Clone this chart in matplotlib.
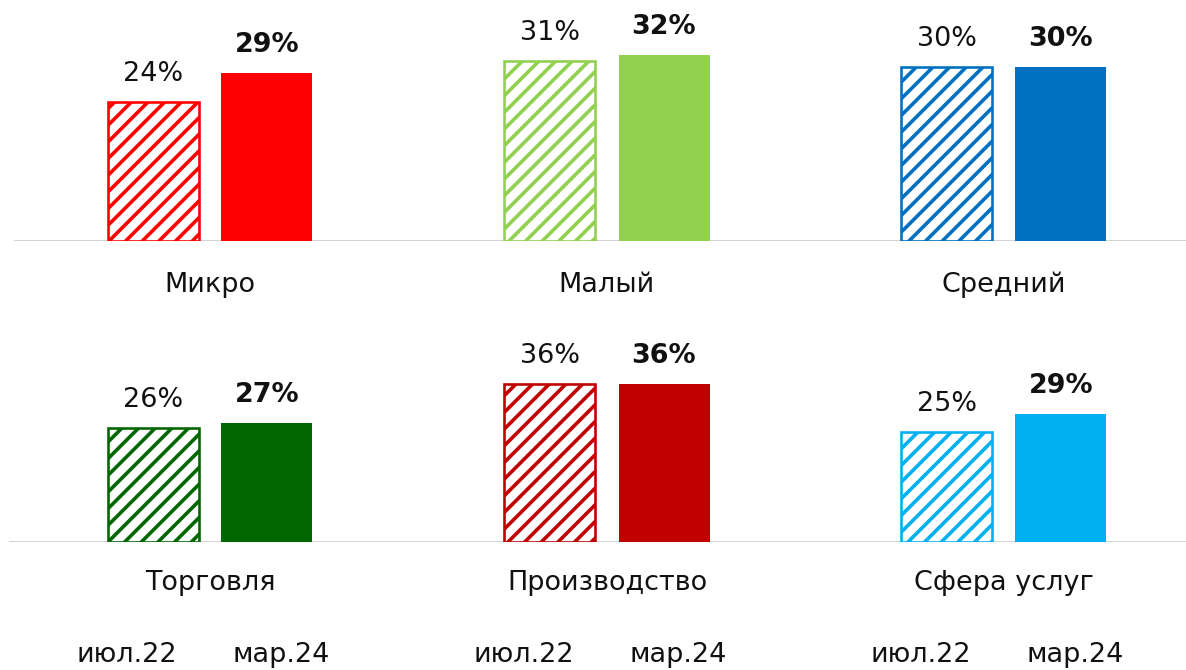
import matplotlib
matplotlib.use("Agg")
import matplotlib.pyplot as plt
import numpy as np

# data
top_groups = ["Микро", "Малый", "Средний"]
top_jul22 = [24, 31, 30]
top_mar24 = [29, 32, 30]
top_colors = ["#FF0000", "#92D050", "#0070C0"]

bottom_groups = ["Торговля", "Производство", "Сфера услуг"]
bottom_jul22 = [26, 36, 25]
bottom_mar24 = [27, 36, 29]
bottom_colors = ["#006600", "#C00000", "#00B0F0"]

period_labels = ["июл.22", "мар.24"]

W, H = 1186, 670
DPI = 100
PT = 72.0 / DPI   # points per pixel

plt.rcParams["font.family"] = ["DejaVu Sans"]
plt.rcParams["hatch.linewidth"] = 3.6 * PT

fig = plt.figure(figsize=(W / DPI, H / DPI), dpi=DPI)

SPACING = 397.0   # px between group centres
CENTER0 = 210.0   # px of first group centre
OFFSET = 57.0 / SPACING
BAR_W = 91.0 / SPACING
XLIM = (-CENTER0 / SPACING, (W - CENTER0) / SPACING)
FS = 27 * PT


def draw_row(baseline_px, px_per_pct, groups, v1, v2, colors, line_start, label_y):
    height_px = baseline_px  # axes reaches up to top of figure
    ax = fig.add_axes([0, (H - baseline_px) / H, 1, height_px / H])
    ax.set_xlim(*XLIM)
    ax.set_ylim(0, height_px / px_per_pct)
    ax.axis("off")
    ax.axhline(0, xmin=line_start / W, xmax=1, color="#d4d4d4", lw=2 * PT, zorder=1)

    x = np.arange(len(groups))
    b1 = ax.bar(x - OFFSET, v1, width=BAR_W, color="white", edgecolor=colors,
                hatch="//", linewidth=2.6 * PT, zorder=2)
    b2 = ax.bar(x + OFFSET, v2, width=BAR_W, color=colors, linewidth=0, zorder=2)

    for rect, val in zip(b1, v1):
        ax.annotate(f"{val}%", (rect.get_x() + rect.get_width() / 2, val),
                    xytext=(0, 15 * PT), textcoords="offset points",
                    ha="center", va="bottom", fontsize=FS, color="#111111")
    for rect, val in zip(b2, v2):
        ax.annotate(f"{val}%", (rect.get_x() + rect.get_width() / 2, val),
                    xytext=(0, 15 * PT), textcoords="offset points",
                    ha="center", va="bottom", fontsize=FS, fontweight="bold",
                    color="#111111")

    for xi, name in zip(x, groups):
        ax.text(xi, 0, name, ha="center", va="center", fontsize=FS,
                color="#111111",
                transform=ax.transData + matplotlib.transforms.ScaledTranslation(
                    0, -(label_y - baseline_px) / DPI, fig.dpi_scale_trans))
    return ax


draw_row(241, 5.8, top_groups, top_jul22, top_mar24, top_colors, 15, 285)
ax2 = draw_row(542, 4.4, bottom_groups, bottom_jul22, bottom_mar24, bottom_colors, 10, 583)

# period labels under the bottom row
shift = matplotlib.transforms.ScaledTranslation(0, -(655 - 542) / DPI, fig.dpi_scale_trans)
for xi in range(len(bottom_groups)):
    for lab, dx in zip(period_labels, (-0.21, 0.18)):
        ax2.text(xi + dx, 0, lab, ha="center", va="center", fontsize=FS,
                 color="#111111", transform=ax2.transData + shift)

fig.savefig("out.png", dpi=DPI)
